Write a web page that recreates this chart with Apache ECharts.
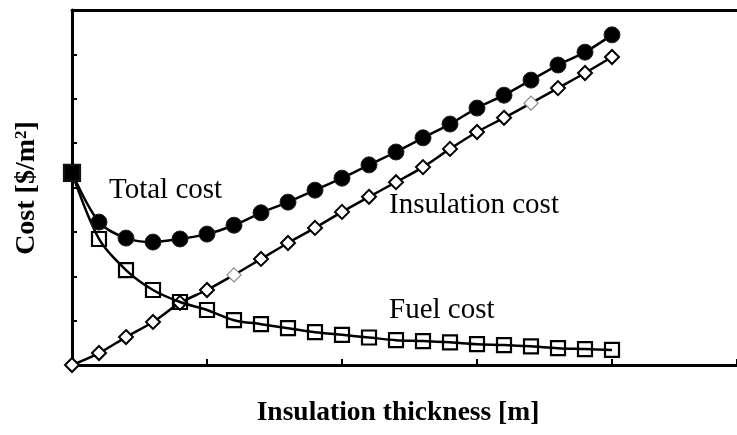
<!DOCTYPE html>
<html>
<head>
<meta charset="utf-8">
<script src="https://cdn.jsdelivr.net/npm/echarts@6/dist/echarts.min.js"></script>
<style>
html,body{margin:0;padding:0;background:#fff;}
#chart{width:737px;height:435px;}
</style>
</head>
<body>
<div id="chart"></div>
<script>
// Insulation thickness (x positions of the markers, axis units)
var thickness = [0, 0.2, 0.4, 0.6, 0.8, 1.0, 1.2, 1.4, 1.6, 1.8, 2.0, 2.2, 2.4, 2.6, 2.8, 3.0, 3.2, 3.4, 3.6, 3.8, 4.0];
// Cost values (axis units)
var totalCost = [4.33, 3.22, 2.86, 2.77, 2.84, 2.95, 3.15, 3.43, 3.67, 3.94, 4.21, 4.51, 4.80, 5.12, 5.43, 5.79, 6.08, 6.42, 6.76, 7.05, 7.44];
var insulationCost = [0, 0.27, 0.63, 0.97, 1.40, 1.69, 2.03, 2.39, 2.75, 3.09, 3.45, 3.79, 4.12, 4.46, 4.87, 5.25, 5.57, 5.90, 6.24, 6.58, 6.94];
var fuelCost = [4.33, 2.84, 2.14, 1.69, 1.42, 1.24, 1.01, 0.92, 0.83, 0.74, 0.68, 0.62, 0.56, 0.54, 0.51, 0.47, 0.45, 0.42, 0.38, 0.36, 0.34];
// Series labels and axis titles
var seriesNames = ['Total cost', 'Insulation cost', 'Fuel cost'];
var xTitle = 'Insulation thickness [m]';

var chart = echarts.init(document.getElementById('chart'), null, {renderer: 'canvas'});

function pairs(vals, styler) {
  return vals.map(function (v, i) {
    var d = {value: [thickness[i], v]};
    if (styler) styler(d, i);
    return d;
  });
}

var totalData = pairs(totalCost, function (d, i) {
  if (i === 0) { d.symbol = 'rect'; d.symbolSize = 16; }
});
var insData = pairs(insulationCost, function (d, i) {
  if (i === 6 || i === 17) {
    d.itemStyle = {borderColor: '#8a8a8a', borderWidth: 1.2};
  }
});
var fuelData = pairs(fuelCost, function (d, i) {
  if (i === 0) { d.itemStyle = {color: '#000'}; d.symbolSize = 16; }
});

var serif = '"Liberation Serif", "Times New Roman", serif';

var option = {
  backgroundColor: '#fff',
  animation: false,
  grid: {left: 72, top: 10, right: 0, bottom: 70, show: false, containLabel: false},
  xAxis: [{
    type: 'value', min: 0, max: 665 / 135,
    interval: 1,
    axisLine: {show: true, onZero: false, lineStyle: {color: '#000', width: 3}},
    axisTick: {show: true, inside: true, length: 6, lineStyle: {color: '#000', width: 2}},
    axisLabel: {show: false},
    splitLine: {show: false}
  }, {
    type: 'value', position: 'top', min: 0, max: 665 / 135,
    axisLine: {show: true, onZero: false, lineStyle: {color: '#000', width: 3}},
    axisTick: {show: false},
    axisLabel: {show: false},
    splitLine: {show: false}
  }],
  yAxis: {
    type: 'value', min: 0, max: 8, interval: 1,
    axisLine: {show: true, onZero: false, lineStyle: {color: '#000', width: 3}},
    axisTick: {show: true, inside: true, length: 5, lineStyle: {color: '#000', width: 2}},
    axisLabel: {show: false},
    splitLine: {show: false}
  },
  series: [
    {
      name: seriesNames[1], type: 'line', smooth: 0.3, data: insData,
      symbol: 'diamond', symbolSize: [14, 14],
      lineStyle: {color: '#000', width: 2.5},
      itemStyle: {color: '#fff', borderColor: '#000', borderWidth: 2},
      z: 3
    },
    {
      name: seriesNames[2], type: 'line', smooth: 0.3, data: fuelData,
      symbol: 'rect', symbolSize: 14,
      lineStyle: {color: '#000', width: 2.5},
      itemStyle: {color: 'rgba(255,255,255,0)', borderColor: '#000', borderWidth: 2.2},
      z: 4
    },
    {
      name: seriesNames[0], type: 'line', smooth: 0.3, data: totalData,
      symbol: 'circle', symbolSize: 16,
      lineStyle: {color: '#000', width: 2.5},
      itemStyle: {color: '#000', borderColor: '#222', borderWidth: 1},
      z: 5
    }
  ],
  graphic: [
    {type: 'text', left: 109, top: 176, style: {text: seriesNames[0], font: '29px ' + serif, fill: '#000'}},
    {type: 'text', left: 389, top: 191, style: {text: seriesNames[1], font: '29px ' + serif, fill: '#000'}},
    {type: 'text', left: 389, top: 296, style: {text: seriesNames[2], font: '29px ' + serif, fill: '#000'}},
    {type: 'text', x: 398, y: 413, style: {text: xTitle, font: 'bold 27.5px ' + serif, fill: '#000', align: 'center', verticalAlign: 'middle'}},
    {type: 'text', x: 27, y: 188, rotation: Math.PI / 2,
      style: {
        text: '{a|Cost [$/m}{s|2}{a|]}',
        align: 'center', verticalAlign: 'middle',
        rich: {
          a: {font: 'bold 28px ' + serif, fill: '#000', color: '#000'},
          s: {font: 'bold 17px ' + serif, fill: '#000', color: '#000', verticalAlign: 'top', padding: [0, 0, 10, 0]}
        }
      }}
  ]
};
chart.setOption(option);
</script>
</body>
</html>
